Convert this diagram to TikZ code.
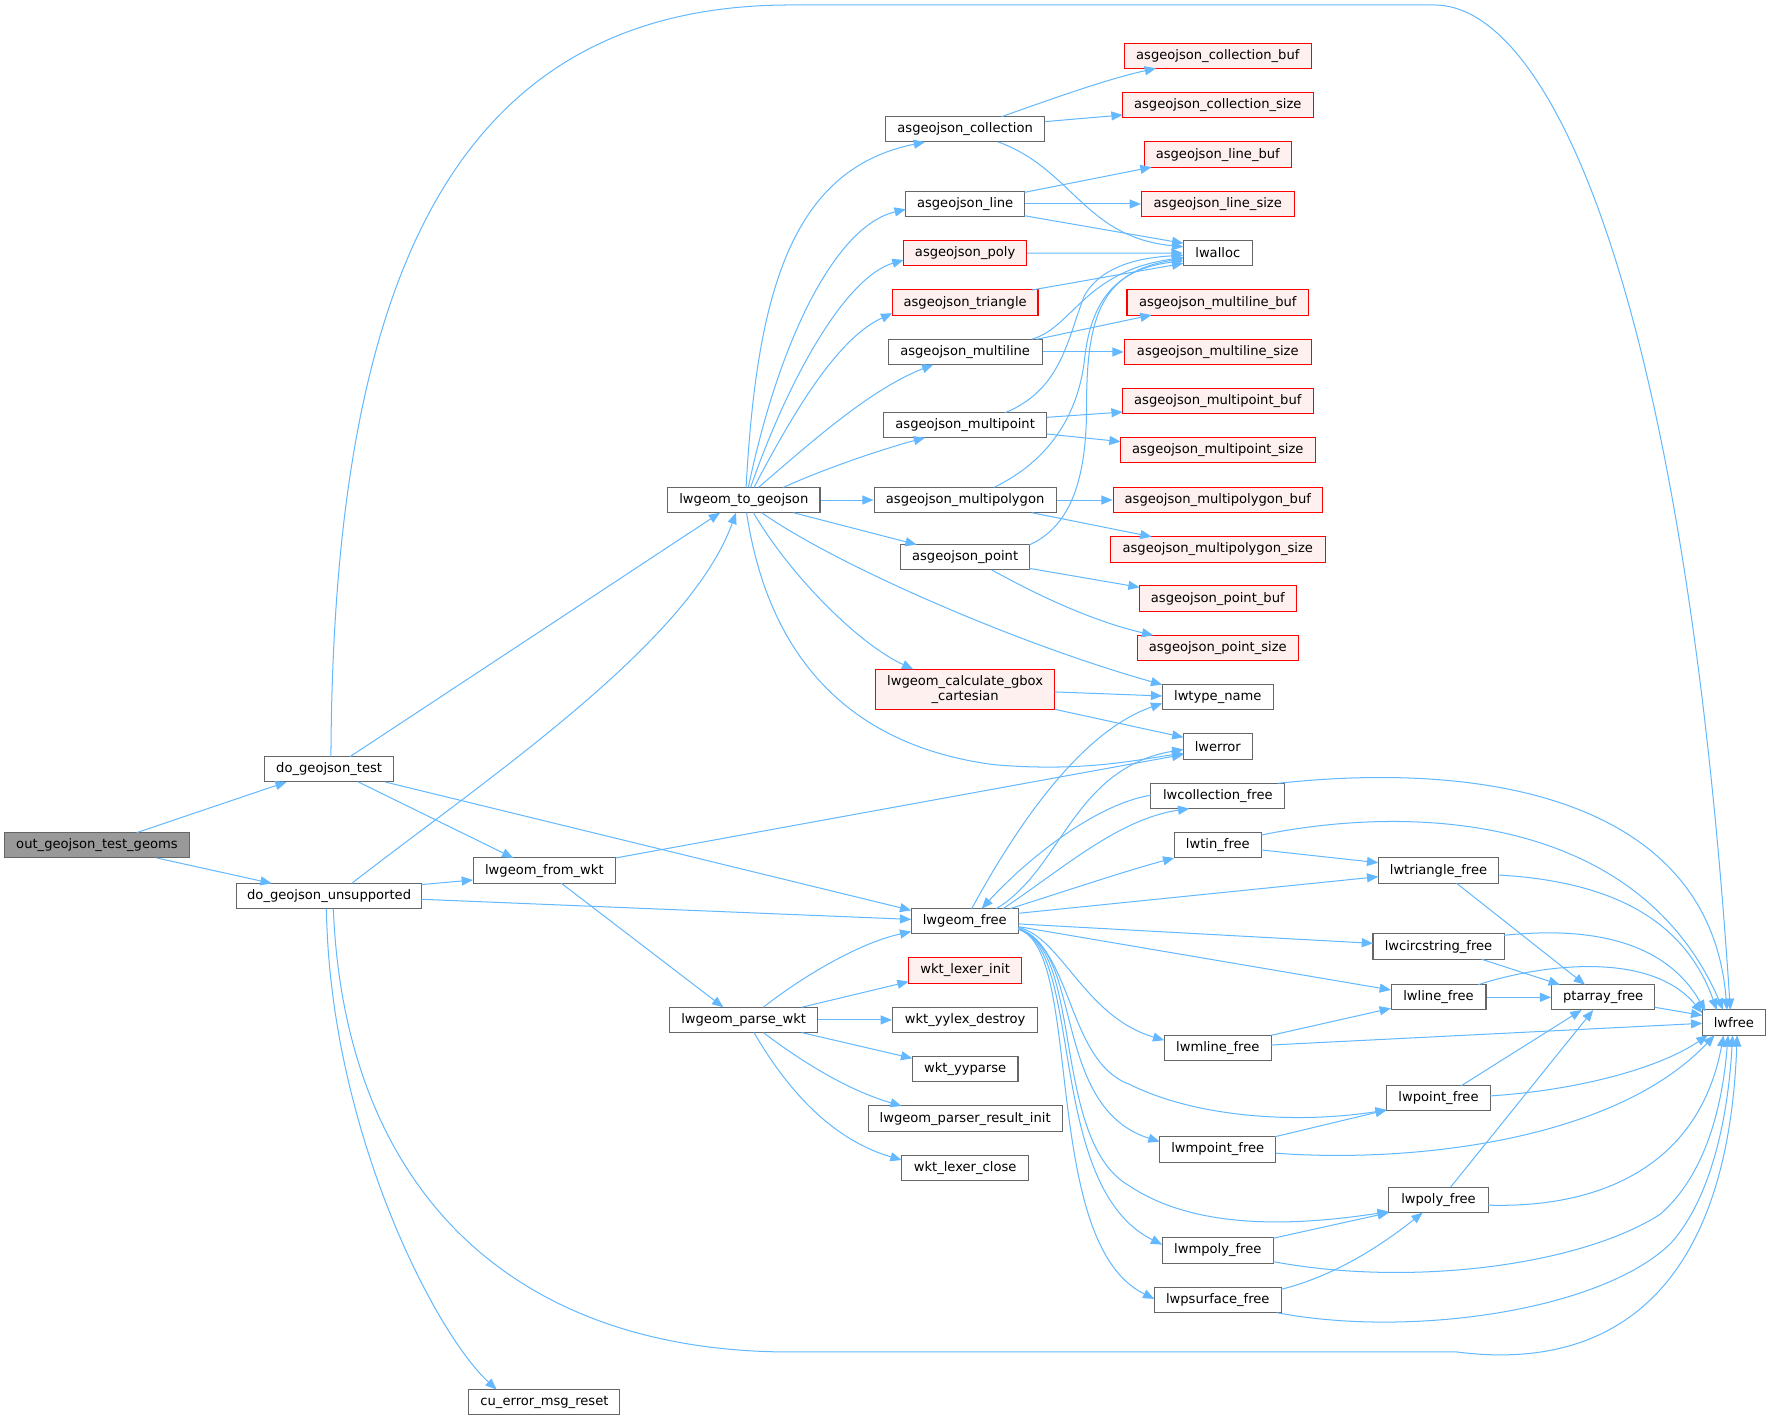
\documentclass[tikz,border=0pt]{standalone}
\usepackage{fontspec}
\setmainfont{DejaVu Sans}
\usetikzlibrary{arrows.meta}
\definecolor{edgeblue}{HTML}{63B8FF}
\definecolor{bordergray}{HTML}{666666}
\definecolor{rootfill}{HTML}{999999}
\definecolor{redfill}{HTML}{FFF0F0}
\definecolor{redline}{HTML}{FF0000}
\begin{document}
\begin{tikzpicture}[x=1pt,y=-1pt,
  nbox/.style={draw=bordergray, fill=white, line width=0.9pt, minimum height=22.4pt, inner sep=0pt, font=\fontsize{11.6}{13.3}\selectfont, text=black},
  rbox/.style={nbox, draw=redline, fill=redfill},
  rootbox/.style={nbox, fill=rootfill},
  conn/.style={draw=edgeblue, line width=0.9pt, -{Triangle[length=10pt,width=8pt]}}]
\useasboundingbox (0,0) rectangle (1568,1258);
% left part
\node[rootbox, minimum width=163.5pt] (out) at (85.85,748.4) {out\_geojson\_test\_geoms};
\node[nbox, minimum width=113.6pt] (dotest) at (291.4,681.1) {do\_geojson\_test};
\node[nbox, minimum width=163.2pt] (dounsup) at (291.4,793.3) {do\_geojson\_unsupported};
\node[nbox, minimum width=126.3pt] (fromwkt) at (481.95,770.8) {lwgeom\_from\_wkt};
\node[nbox, minimum width=134.9pt] (togeojson) at (658.55,442.7) {lwgeom\_to\_geojson};
\node[nbox, minimum width=131.6pt] (parsewkt) at (658.4,903) {lwgeom\_parse\_wkt};
\node[nbox, minimum width=133.7pt] (cuerr) at (482.05,1241.5) {cu\_error\_msg\_reset};
\node[nbox, minimum width=94.8pt] (lwgeomfree) at (854.2,815.7) {lwgeom\_free};
% middle column
\node[nbox, minimum width=141pt] (coll) at (854.5,114.5) {asgeojson\_collection};
\node[nbox, minimum width=105pt] (aline) at (854.5,180.6) {asgeojson\_line};
\node[rbox, minimum width=109pt] (apoly) at (854.5,224.2) {asgeojson\_poly};
\node[rbox, minimum width=129pt] (tri) at (854.5,267.9) {asgeojson\_triangle};
\node[nbox, minimum width=136.3pt] (mline) at (854.5,311.6) {asgeojson\_multiline};
\node[nbox, minimum width=144.3pt] (mpoint) at (854.5,376.5) {asgeojson\_multipoint};
\node[nbox, minimum width=161.2pt] (mpoly) at (854.5,442.7) {asgeojson\_multipolygon};
\node[nbox, minimum width=113.6pt] (apoint) at (854.5,493.4) {asgeojson\_point};
\node[rbox, minimum width=158.5pt, minimum height=35.4pt, align=center] (gbox) at (854.5,610.3) {lwgeom\_calculate\_gbox\\\_cartesian};
\node[rbox, minimum width=100.3pt] (lexinit) at (854.5,859.2) {wkt\_lexer\_init};
\node[nbox, minimum width=128.7pt] (yylexd) at (854.5,903) {wkt\_yylex\_destroy};
\node[nbox, minimum width=93.6pt] (yyparse) at (854.5,946.7) {wkt\_yyparse};
\node[nbox, minimum width=171.8pt] (presinit) at (854.5,990.4) {lwgeom\_parser\_result\_init};
\node[nbox, minimum width=112.5pt] (lexclose) at (854.5,1034.1) {wkt\_lexer\_close};
% right column
\node[rbox, minimum width=165.6pt] (collbuf) at (1078.2,49.6) {asgeojson\_collection\_buf};
\node[rbox, minimum width=168.7pt] (collsize) at (1078.2,93.2) {asgeojson\_collection\_size};
\node[rbox, minimum width=130pt] (linebuf) at (1078.2,136.9) {asgeojson\_line\_buf};
\node[rbox, minimum width=135.2pt] (linesize) at (1078.2,180.6) {asgeojson\_line\_size};
\node[nbox, minimum width=61.5pt] (lwalloc) at (1078.2,224) {lwalloc};
\node[rbox, minimum width=160.8pt] (mlinebuf) at (1078.2,267.9) {asgeojson\_multiline\_buf};
\node[rbox, minimum width=165.6pt] (mlinesize) at (1078.2,311.6) {asgeojson\_multiline\_size};
\node[rbox, minimum width=168.7pt] (mpointbuf) at (1078.2,355.2) {asgeojson\_multipoint\_buf};
\node[rbox, minimum width=172.3pt] (mpointsize) at (1078.2,398.7) {asgeojson\_multipoint\_size};
\node[rbox, minimum width=185.3pt] (mpolybuf) at (1078.2,442.7) {asgeojson\_multipolygon\_buf};
\node[rbox, minimum width=190.1pt] (mpolysize) at (1078.2,486.4) {asgeojson\_multipolygon\_size};
\node[rbox, minimum width=138.5pt] (pointbuf) at (1078.2,530) {asgeojson\_point\_buf};
\node[rbox, minimum width=142.8pt] (pointsize) at (1078.2,573.7) {asgeojson\_point\_size};
\node[nbox, minimum width=98.3pt] (lwtype) at (1078.2,617.4) {lwtype\_name};
\node[nbox, minimum width=60.8pt] (lwerror) at (1078.2,660.9) {lwerror};
\node[nbox, minimum width=118.4pt] (lwcollfree) at (1078.2,704.7) {lwcollection\_free};
\node[nbox, minimum width=77pt] (lwtinfree) at (1078.2,748.4) {lwtin\_free};
\node[nbox, minimum width=94.8pt] (lwmlinefree) at (1078.2,927.8) {lwmline\_free};
\node[nbox, minimum width=103pt] (lwmpointfree) at (1078.2,1017.6) {lwmpoint\_free};
\node[nbox, minimum width=98.3pt] (lwmpolyfree) at (1078.2,1107.2) {lwmpoly\_free};
\node[nbox, minimum width=112.4pt] (lwpsurffree) at (1078.2,1151) {lwpsurface\_free};
% fourth column
\node[nbox, minimum width=106.5pt] (lwtrifree) at (1273.6,770.8) {lwtriangle\_free};
\node[nbox, minimum width=116pt] (lwcircfree) at (1273.6,838.1) {lwcircstring\_free};
\node[nbox, minimum width=84.1pt] (lwlinefree) at (1273.6,883) {lwline\_free};
\node[nbox, minimum width=91.5pt] (lwpointfree) at (1273.6,972.4) {lwpoint\_free};
\node[nbox, minimum width=88pt] (lwpolyfree) at (1273.6,1062.4) {lwpoly\_free};
\node[nbox, minimum width=91.2pt] (ptarray) at (1419.4,883) {ptarray\_free};
\node[nbox, minimum width=55.8pt] (lwfree) at (1535.1,905.4) {lwfree};

% ---- edges: left part
\draw[conn] ([shift={(35.15,-11.2)}]out.center) -- ([shift={(-37.6,11.2)}]dotest.center);
\draw[conn] ([shift={(52.85,11.2)}]out.center) -- ([shift={(-50.9,-11.2)}]dounsup.center);
\draw[conn] ([shift={(1.6,-11.2)}]dotest.center) .. controls (295,250) and (400,4.4) .. (700,4.4) -- (1270,4.4) .. controls (1370,4.4) and (1490,250) .. ([shift={(-3.1,-11.2)}]lwfree.center);
\draw[conn] ([shift={(18.5,-11.2)}]dotest.center) -- ([shift={(-21,11.2)}]togeojson.center);
\draw[conn] ([shift={(25.8,11.2)}]dotest.center) -- ([shift={(-27.45,-11.2)}]fromwkt.center);
\draw[conn] ([shift={(49.5,11.2)}]dotest.center) -- ([shift={(-47.4,-9.7)}]lwgeomfree.center);
\draw[conn] ([shift={(20,-11.2)}]dounsup.center) .. controls (430,690) and (610,570) .. ([shift={(-6.95,11.2)}]togeojson.center);
\draw[conn] ([shift={(81.6,-10.1)}]dounsup.center) -- ([shift={(-63.15,8.3)}]fromwkt.center);
\draw[conn] ([shift={(81.6,2.9)}]dounsup.center) -- ([shift={(-47.4,-1.7)}]lwgeomfree.center);
\draw[conn] ([shift={(3.7,11.2)}]dounsup.center) .. controls (305,1050) and (450,1197) .. (700,1197) -- (1290,1197) .. controls (1430,1215) and (1530,1140) .. ([shift={(2.9,11.2)}]lwfree.center);
\draw[conn] ([shift={(-2.4,11.2)}]dounsup.center) .. controls (292,1000) and (385,1180) .. ([shift={(-42.35,-11.2)}]cuerr.center);
\draw[conn] ([shift={(63.15,-11.2)}]fromwkt.center) -- ([shift={(-30.4,7.1)}]lwerror.center);
\draw[conn] ([shift={(15,11.2)}]fromwkt.center) -- ([shift={(-18,-11.2)}]parsewkt.center);

% ---- lwgeom_to_geojson
\draw[conn] ([shift={(2,-11.2)}]togeojson.center) .. controls (670,260) and (700,150) .. ([shift={(-35.5,11.2)}]coll.center);
\draw[conn] ([shift={(4,-11.2)}]togeojson.center) .. controls (690,300) and (740,200) .. ([shift={(-52.5,4.7)}]aline.center);
\draw[conn] ([shift={(6,-11.2)}]togeojson.center) .. controls (700,330) and (750,245) .. ([shift={(-54.5,6)}]apoly.center);
\draw[conn] ([shift={(9,-11.2)}]togeojson.center) .. controls (700,370) and (740,300) .. ([shift={(-64.5,9.5)}]tri.center);
\draw[conn] ([shift={(13,-11.2)}]togeojson.center) .. controls (720,390) and (770,345) .. ([shift={(-28.2,11.2)}]mline.center);
\draw[conn] ([shift={(34.95,-11.2)}]togeojson.center) .. controls (730,415) and (780,398) .. ([shift={(-35.5,11)}]mpoint.center);
\draw[conn] (togeojson.east) -- (mpoly.west);
\draw[conn] ([shift={(43.85,11.2)}]togeojson.center) -- ([shift={(-42.9,-11.2)}]apoint.center);
\draw[conn] ([shift={(15.75,11.2)}]togeojson.center) .. controls (740,500) and (900,570) .. ([shift={(-49.2,-11.2)}]lwtype.center);
\draw[conn] ([shift={(8.45,11.2)}]togeojson.center) .. controls (700,510) and (760,570) .. ([shift={(-45.9,-17.7)}]gbox.center);
\draw[conn] ([shift={(2.45,11.2)}]togeojson.center) .. controls (680,580) and (750,660) .. (880,677) .. controls (960,684) and (1010,672) .. ([shift={(-30.5,6.1)}]lwerror.center);

% ---- asgeojson_* callees
\draw[conn] ([shift={(32.3,-11.2)}]coll.center) .. controls (930,88) and (980,70) .. ([shift={(-54.7,10.9)}]collbuf.center);
\draw[conn] ([shift={(70.5,-6.8)}]coll.center) -- ([shift={(-84.2,8.6)}]collsize.center);
\draw[conn] ([shift={(29.4,11.2)}]coll.center) .. controls (950,150) and (960,210) .. ([shift={(-30.5,-5.5)}]lwalloc.center);
\draw[conn] ([shift={(52.5,-10.3)}]aline.center) -- ([shift={(-58.6,11.1)}]linebuf.center);
\draw[conn] (aline.east) -- (linesize.west);
\draw[conn] ([shift={(52.5,10.4)}]aline.center) -- ([shift={(-30.5,-8.6)}]lwalloc.center);
\draw[conn] (apoly.east) -- (lwalloc.west);
\draw[conn] ([shift={(58.9,-11.1)}]tri.center) -- ([shift={(-30.5,9.1)}]lwalloc.center);
\draw[conn] ([shift={(58.9,-11.2)}]mline.center) .. controls (950,290) and (960,240) .. ([shift={(-30.5,4)}]lwalloc.center);
\draw[conn] ([shift={(63.5,-11.2)}]mline.center) -- ([shift={(-58.6,11)}]mlinebuf.center);
\draw[conn] (mline.east) -- (mlinesize.west);
\draw[conn] ([shift={(35.3,-11.1)}]mpoint.center) .. controls (940,345) and (945,300) .. (960,262) .. controls (975,235) and (1010,228) .. ([shift={(-30.5,2)}]lwalloc.center);
\draw[conn] ([shift={(72.2,-7)}]mpoint.center) -- ([shift={(-84.2,9.6)}]mpointbuf.center);
\draw[conn] ([shift={(72.2,7.7)}]mpoint.center) -- ([shift={(-86,-7.7)}]mpointsize.center);
\draw[conn] ([shift={(25.5,-11.2)}]mpoly.center) .. controls (935,405) and (955,360) .. (960,320) .. controls (965,270) and (985,238) .. ([shift={(-30.5,7)}]lwalloc.center);
\draw[conn] ([shift={(56.8,-10.9)}]apoint.center) .. controls (950,465) and (962,420) .. (962,360) .. controls (962,280) and (975,240) .. ([shift={(-30.5,5)}]lwalloc.center);
\draw[conn] (mpoly.east) -- (mpolybuf.west);
\draw[conn] ([shift={(58.9,11.2)}]mpoly.center) -- ([shift={(-58.6,-11.2)}]mpolysize.center);
\draw[conn] ([shift={(56.8,9.8)}]apoint.center) -- ([shift={(-69.2,-10)}]pointbuf.center);
\draw[conn] ([shift={(23.5,11.2)}]apoint.center) .. controls (910,522) and (960,548) .. ([shift={(-57.2,-11.2)}]pointsize.center);
\draw[conn] ([shift={(79.3,2.3)}]gbox.center) -- ([shift={(-49.2,-1.2)}]lwtype.center);
\draw[conn] ([shift={(79.3,17.7)}]gbox.center) -- ([shift={(-30.4,-8.1)}]lwerror.center);

% ---- lwgeom_parse_wkt
\draw[conn] ([shift={(17.4,-11.2)}]parsewkt.center) .. controls (710,865) and (760,835) .. ([shift={(-47.4,9.1)}]lwgeomfree.center);
\draw[conn] ([shift={(51.3,-11.2)}]parsewkt.center) -- ([shift={(-50,9.9)}]lexinit.center);
\draw[conn] (parsewkt.east) -- (yylexd.west);
\draw[conn] ([shift={(51.3,11.2)}]parsewkt.center) -- ([shift={(-46.8,-9.7)}]yyparse.center);
\draw[conn] ([shift={(17.4,11.2)}]parsewkt.center) .. controls (710,940) and (750,965) .. ([shift={(-56.2,-11.2)}]presinit.center);
\draw[conn] ([shift={(9.2,11.2)}]parsewkt.center) .. controls (700,970) and (740,1010) .. ([shift={(-56.2,-7.1)}]lexclose.center);

% ---- lwgeom_free
\draw[conn] ([shift={(6.1,-11.2)}]lwgeomfree.center) .. controls (890,750) and (950,650) .. ([shift={(-49.2,5.3)}]lwtype.center);
\draw[conn] ([shift={(27.8,-11.2)}]lwgeomfree.center) .. controls (940,770) and (950,680) .. ([shift={(-30.4,2.6)}]lwerror.center);
\draw[conn] ([shift={(33.8,-11.2)}]lwgeomfree.center) .. controls (940,770) and (990,725) .. ([shift={(-25.2,11.2)}]lwcollfree.center);
\draw[conn] ([shift={(-59.2,-0.7)}]lwcollfree.center) .. controls (970,712) and (910,760) .. ([shift={(14.9,-11.2)}]lwgeomfree.center);
\draw[conn] ([shift={(40,-11.2)}]lwgeomfree.center) .. controls (940,790) and (1000,770) .. ([shift={(-38.5,11.2)}]lwtinfree.center);
\draw[conn] ([shift={(47.4,-7.1)}]lwgeomfree.center) -- ([shift={(-53.3,5.4)}]lwtrifree.center);
\draw[conn] ([shift={(47.4,2.3)}]lwgeomfree.center) -- ([shift={(-58,-2.9)}]lwcircfree.center);
\draw[conn] ([shift={(47.4,4.7)}]lwgeomfree.center) -- ([shift={(-42.1,-6.5)}]lwlinefree.center);
\draw[conn] ([shift={(47.4,5.3)}]lwgeomfree.center) .. controls (940,830) and (960,900) .. ([shift={(-47.4,-6.8)}]lwmlinefree.center);
\draw[conn] ([shift={(47.4,6.3)}]lwgeomfree.center) .. controls (950,840) and (945,940) .. (1000,960) .. controls (1060,990) and (1150,995) .. ([shift={(-45.75,10.3)}]lwpointfree.center);
\draw[conn] ([shift={(47.4,6.5)}]lwgeomfree.center) .. controls (960,840) and (930,980) .. ([shift={(-51.5,-6.8)}]lwmpointfree.center);
\draw[conn] ([shift={(47.4,6.7)}]lwgeomfree.center) .. controls (960,840) and (930,1010) .. (1000,1050) .. controls (1060,1090) and (1150,1085) .. ([shift={(-44,10.3)}]lwpolyfree.center);
\draw[conn] ([shift={(47.4,6.9)}]lwgeomfree.center) .. controls (960,840) and (925,1050) .. ([shift={(-49.2,-5.2)}]lwmpolyfree.center);
\draw[conn] ([shift={(47.4,7.1)}]lwgeomfree.center) .. controls (960,840) and (920,1100) .. ([shift={(-56.2,-1)}]lwpsurffree.center);

% ---- *_free functions
\draw[conn] ([shift={(38.5,4.1)}]lwtinfree.center) -- ([shift={(-53.3,-7)}]lwtrifree.center);
\draw[conn] ([shift={(38.5,-9.1)}]lwtinfree.center) .. controls (1250,712) and (1450,720) .. ([shift={(-9.4,-11.2)}]lwfree.center);
\draw[conn] ([shift={(53.5,-11.2)}]lwcollfree.center) .. controls (1330,672) and (1515,715) .. ([shift={(-6.1,-11.2)}]lwfree.center);
\draw[conn] ([shift={(53.2,3.9)}]lwtrifree.center) .. controls (1420,780) and (1490,810) .. ([shift={(-15.1,-11.2)}]lwfree.center);
\draw[conn] ([shift={(16,11.2)}]lwtrifree.center) -- ([shift={(-16.1,-11.2)}]ptarray.center);
\draw[conn] ([shift={(58,-10)}]lwcircfree.center) .. controls (1390,822) and (1470,825) .. ([shift={(-25.1,-9.9)}]lwfree.center);
\draw[conn] ([shift={(38.2,11.2)}]lwcircfree.center) -- ([shift={(-38.3,-11.2)}]ptarray.center);
\draw[conn] (lwlinefree.east) -- (ptarray.west);
\draw[conn] ([shift={(35.2,-11.2)}]lwlinefree.center) .. controls (1360,855) and (1460,840) .. ([shift={(-27.9,-8.4)}]lwfree.center);
\draw[conn] ([shift={(45.6,8.8)}]ptarray.center) -- ([shift={(-27.9,-6.4)}]lwfree.center);
\draw[conn] ([shift={(47.4,-11.2)}]lwmlinefree.center) -- ([shift={(-42.1,9.7)}]lwlinefree.center);
\draw[conn] ([shift={(47.4,-2.6)}]lwmlinefree.center) -- ([shift={(-27.9,0.6)}]lwfree.center);
\draw[conn] ([shift={(20.25,-11.2)}]lwpointfree.center) -- ([shift={(-19.1,11.2)}]ptarray.center);
\draw[conn] ([shift={(45.75,-2.1)}]lwpointfree.center) .. controls (1400,965) and (1470,945) .. ([shift={(-23.1,11.2)}]lwfree.center);
\draw[conn] ([shift={(50.6,-11.2)}]lwmpointfree.center) -- ([shift={(-45.75,10.3)}]lwpointfree.center);
\draw[conn] ([shift={(51.5,3.4)}]lwmpointfree.center) .. controls (1250,1030) and (1430,1010) .. ([shift={(-17.1,11.2)}]lwfree.center);
\draw[conn] ([shift={(10.6,-11.2)}]lwpolyfree.center) -- ([shift={(-8.8,11.2)}]ptarray.center);
\draw[conn] ([shift={(44,4.6)}]lwpolyfree.center) .. controls (1420,1070) and (1505,1030) .. ([shift={(-9.1,11.2)}]lwfree.center);
\draw[conn] ([shift={(49.1,-10.9)}]lwmpolyfree.center) -- ([shift={(-43.9,11.2)}]lwpolyfree.center);
\draw[conn] ([shift={(49.1,9.8)}]lwmpolyfree.center) .. controls (1250,1140) and (1400,1120) .. (1470,1075) .. controls (1510,1040) and (1525,980) .. ([shift={(-5.1,11.2)}]lwfree.center);
\draw[conn] ([shift={(56.2,-9.5)}]lwpsurffree.center) .. controls (1180,1130) and (1220,1105) .. ([shift={(-14,11.2)}]lwpolyfree.center);
\draw[conn] ([shift={(52.3,11.2)}]lwpsurffree.center) .. controls (1250,1185) and (1420,1160) .. (1480,1100) .. controls (1515,1060) and (1530,990) .. ([shift={(-1.1,11.2)}]lwfree.center);
\end{tikzpicture}
\end{document}
